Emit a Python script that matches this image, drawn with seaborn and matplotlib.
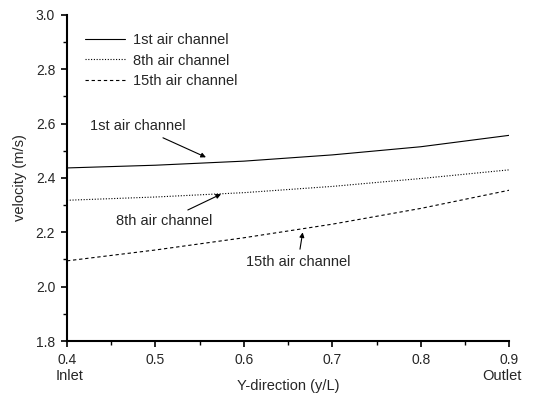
import numpy as np
import pandas as pd
import matplotlib
matplotlib.use("Agg")
import matplotlib.pyplot as plt
import seaborn as sns
from matplotlib.ticker import MultipleLocator
from matplotlib.transforms import blended_transform_factory

# positions along the channel (y/L)
y_pos = [0.4, 0.5, 0.6, 0.7, 0.8, 0.9]

# velocity (m/s)
vel_1st = [2.437, 2.447, 2.462, 2.485, 2.515, 2.557]
vel_8th = [2.318, 2.330, 2.346, 2.369, 2.398, 2.430]
vel_15th = [2.095, 2.135, 2.180, 2.230, 2.288, 2.355]

channel_names = ["1st air channel", "8th air channel", "15th air channel"]
line_styles = ["-", (0, (1, 1.5)), (0, (3, 2.5))]

df = pd.DataFrame({
    "y": y_pos * 3,
    "velocity": vel_1st + vel_8th + vel_15th,
    "channel": [c for c in channel_names for _ in y_pos],
})

sns.set_theme(style="ticks")
plt.rcParams["font.family"] = ["Liberation Sans", "DejaVu Sans"]

fig = plt.figure(figsize=(5.4, 3.94), dpi=100)
ax = fig.add_axes([0.124, 0.1345, 0.819, 0.8275])

for name, ls in zip(channel_names, line_styles):
    sub = df[df["channel"] == name]
    sns.lineplot(data=sub, x="y", y="velocity", ax=ax, color="black",
                 linestyle=ls, linewidth=0.8, label=name)

ax.set_xlim(0.4, 0.9)
ax.set_ylim(1.8, 3.0)
ax.xaxis.set_major_locator(MultipleLocator(0.1))
ax.xaxis.set_minor_locator(MultipleLocator(0.05))
ax.yaxis.set_major_locator(MultipleLocator(0.2))
ax.yaxis.set_minor_locator(MultipleLocator(0.1))
ax.tick_params(which="major", length=4.5, width=1.2, labelsize=10, color="black",
               direction="out", pad=4)
ax.tick_params(which="minor", length=3, width=1.0, color="black", direction="out")
for side in ["top", "right"]:
    ax.spines[side].set_visible(False)
for side in ["left", "bottom"]:
    ax.spines[side].set_linewidth(1.5)
    ax.spines[side].set_color("black")

ax.set_xlabel("Y-direction (y/L)", fontsize=10.5, labelpad=9)
ax.set_ylabel("velocity (m/s)", fontsize=10.5, labelpad=6)

trans = blended_transform_factory(ax.transData, fig.transFigure)
ax.text(0.403, 0.045, "Inlet", transform=trans, ha="center", va="center", fontsize=10.5)
ax.text(0.892, 0.045, "Outlet", transform=trans, ha="center", va="center", fontsize=10.5)

leg = ax.legend(loc="upper left", bbox_to_anchor=(0.01, 0.985), frameon=False,
                fontsize=10.5, handlelength=2.8, labelspacing=0.45, handletextpad=0.5)

arrow = dict(arrowstyle="-|>", color="black", lw=0.8, mutation_scale=7)
ax.annotate("1st air channel", xy=(0.56, 2.472), xytext=(0.426, 2.59),
            fontsize=10.5, ha="left", va="center", arrowprops=arrow)
ax.annotate("8th air channel", xy=(0.577, 2.345), xytext=(0.455, 2.24),
            fontsize=10.5, ha="left", va="center", arrowprops=arrow)
ax.annotate("15th air channel", xy=(0.667, 2.21), xytext=(0.602, 2.09),
            fontsize=10.5, ha="left", va="center", arrowprops=arrow)

fig.savefig("out.png", dpi=100)
